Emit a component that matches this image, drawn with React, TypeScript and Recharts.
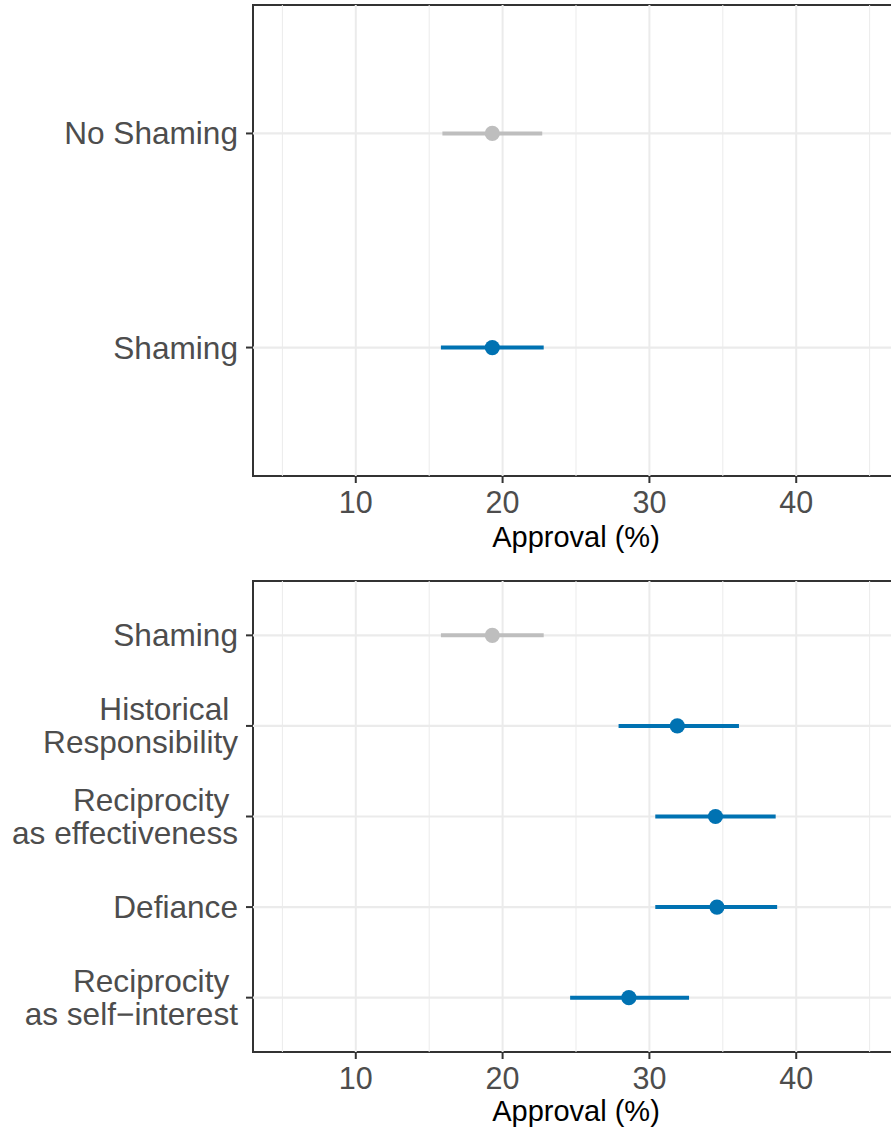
import { ScatterChart, Scatter, XAxis, YAxis, ErrorBar, ReferenceLine, ReferenceArea } from 'recharts';

const topLabels = ['No Shaming', 'Shaming'];
const topEst = [19.3, 19.3];
const topLow = [15.9, 15.8];
const topHigh = [22.7, 22.8];
const topBaseline = [true, false];

const bottomLabels = [
  'Shaming',
  'Historical \nResponsibility',
  'Reciprocity \nas effectiveness',
  'Defiance',
  'Reciprocity \nas self\u2212interest',
];
const bottomEst = [19.3, 31.9, 34.5, 34.6, 28.6];
const bottomLow = [15.8, 27.9, 30.4, 30.4, 24.6];
const bottomHigh = [22.8, 36.1, 38.6, 38.7, 32.7];
const bottomBaseline = [true, false, false, false, false];

const xTicks = [10, 20, 30, 40];
const xMinor = [5, 15, 25, 35, 45];

const BLUE = '#0072B2';
const GREY = '#BEBEBE';
const GRID = '#EBEBEB';
const INK = '#333333';
const TEXT = '#4D4D4D';

function rows(est: number[], low: number[], high: number[], base: boolean[]) {
  return est.map((v, i) => ({
    pos: i + 1,
    est: v,
    err: [v - low[i], high[i] - v],
    base: base[i],
  }));
}

const Dot = (props: any) => (
  <circle cx={props.cx} cy={props.cy} r={7.6} fill={props.fill} />
);

function makeYTick(labels: string[]) {
  return (props: any) => {
    const { x, y, payload } = props;
    const lines = labels[payload.value - 1].split('\n');
    const lh = 33;
    return (
      <text x={x} y={y} textAnchor="end" fill={TEXT} fontSize={31.6} style={{ whiteSpace: 'pre' }}>
        {lines.map((l, i) => (
          <tspan key={i} x={x} dy={i === 0 ? 11 - ((lines.length - 1) * lh) / 2 : lh}>
            {l}
          </tspan>
        ))}
      </text>
    );
  };
}

function Panel(props: {
  labels: string[];
  est: number[];
  low: number[];
  high: number[];
  base: boolean[];
  height: number;
  top: number;
  marginTop: number;
  titleOffset: number;
}) {
  const data = rows(props.est, props.low, props.high, props.base);
  const n = props.labels.length;
  const yTicks = props.labels.map((_, i) => i + 1);
  const yMin = 0.4;
  const yMax = n + 0.6;
  return (
    <div style={{ position: 'absolute', left: 0, top: props.top }}>
      <ScatterChart
        width={900}
        height={props.height}
        margin={{ top: props.marginTop, right: 1, bottom: 0, left: 0 }}
      >
        <XAxis
          type="number"
          dataKey="est"
          domain={[3, 47]}
          ticks={xTicks}
          allowDataOverflow
          axisLine={false}
          tickLine={{ stroke: INK, strokeWidth: 2 }}
          tickSize={7}
          tickMargin={8}
          tick={{ fill: TEXT, fontSize: 30.5 }}
          height={props.height - props.marginTop - 471}
          label={{
            value: 'Approval (%)',
            position: 'insideBottom',
            offset: props.titleOffset,
            fill: '#000000',
            fontSize: 29,
          }}
        />
        <YAxis
          type="number"
          dataKey="pos"
          domain={[yMin, yMax]}
          ticks={yTicks}
          reversed
          allowDataOverflow
          width={253}
          axisLine={false}
          tickLine={{ stroke: INK, strokeWidth: 2 }}
          tickSize={7}
          tickMargin={8}
          tick={makeYTick(props.labels)}
        />
        {xMinor.map((v) => (
          <ReferenceLine key={'m' + v} x={v} stroke={GRID} strokeWidth={1} />
        ))}
        {xTicks.map((v) => (
          <ReferenceLine key={'M' + v} x={v} stroke={GRID} strokeWidth={2} />
        ))}
        {yTicks.map((v) => (
          <ReferenceLine key={'y' + v} y={v} stroke={GRID} strokeWidth={2.2} />
        ))}
        <Scatter
          data={data.filter((d) => d.base)}
          fill={GREY}
          shape={Dot}
          isAnimationActive={false}
        >
          <ErrorBar dataKey="err" direction="x" width={0} stroke={GREY} strokeWidth={4} />
        </Scatter>
        <Scatter
          data={data.filter((d) => !d.base)}
          fill={BLUE}
          shape={Dot}
          isAnimationActive={false}
        >
          <ErrorBar dataKey="err" direction="x" width={0} stroke={BLUE} strokeWidth={4} />
        </Scatter>
        <ReferenceArea
          x1={3}
          x2={47}
          y1={yMin}
          y2={yMax}
          fill="none"
          fillOpacity={0}
          stroke={INK}
          strokeOpacity={1}
          strokeWidth={2}
        />
      </ScatterChart>
    </div>
  );
}

export default function App() {
  return (
    <div
      style={{
        position: 'absolute',
        left: 0,
        top: 0,
        width: 891,
        height: 1131,
        overflow: 'hidden',
        background: '#FFFFFF',
        fontFamily: '"Liberation Sans", Arial, sans-serif',
      }}
    >
      <Panel
        labels={topLabels}
        est={topEst}
        low={topLow}
        high={topHigh}
        base={topBaseline}
        top={0}
        height={570}
        marginTop={5}
        titleOffset={23}
      />
      <Panel
        labels={bottomLabels}
        est={bottomEst}
        low={bottomLow}
        high={bottomHigh}
        base={bottomBaseline}
        top={575}
        height={556}
        marginTop={6}
        titleOffset={10}
      />
    </div>
  );
}
